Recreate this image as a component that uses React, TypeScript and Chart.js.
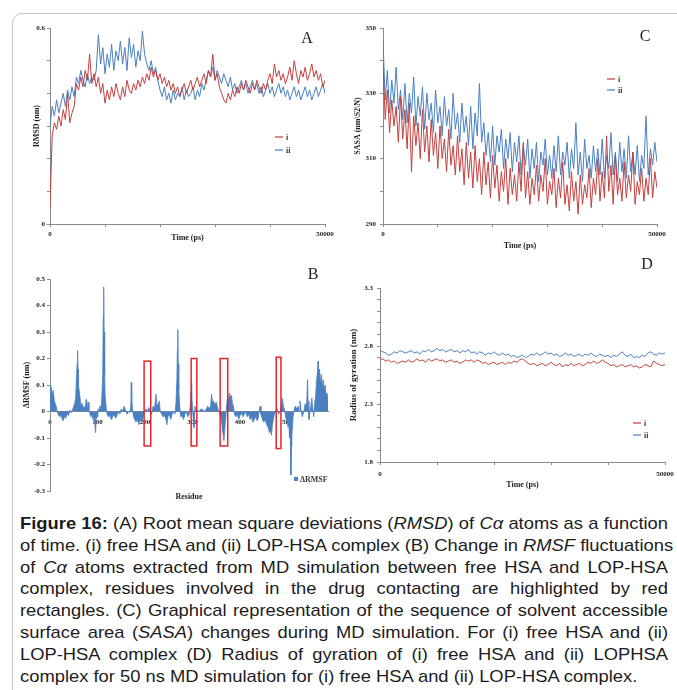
import React, { useEffect, useRef } from "react";
import { Chart, registerables } from "chart.js";

Chart.register(...registerables);

// ---------- shared styling ----------
const RED = "#c2413f";
const BLUE = "#4a7fc0";
const RED_KEY = "#d98a88";
const BLUE_KEY = "#8fb0d8";
const AXIS = "#8a8a8a";
const INK = "#1e1e1e";
const SERIF = '"Liberation Serif", "Times New Roman", serif';
const TICK_FONT = { family: SERIF, size: 7, weight: "bold" as const };
const TITLE_FONT = { family: SERIF, size: 8, weight: "bold" as const };

// ---------- (A) RMSD of Cα atoms, sampled every 400 ps ----------
const RMSD_STEP_PS = 400;
const rmsdFree = [
  0.05, 0.27, 0.31, 0.29, 0.33, 0.30, 0.35, 0.32, 0.40, 0.31,
  0.34, 0.36, 0.43, 0.41, 0.45, 0.42, 0.47, 0.44, 0.52, 0.43,
  0.46, 0.42, 0.45, 0.40, 0.43, 0.37, 0.41, 0.38, 0.42, 0.39,
  0.43, 0.40, 0.38, 0.42, 0.39, 0.44, 0.41, 0.40, 0.43, 0.41,
  0.44, 0.42, 0.45, 0.43, 0.46, 0.44, 0.48, 0.45, 0.47, 0.44,
  0.46, 0.43, 0.45, 0.42, 0.44, 0.41, 0.43, 0.40, 0.42, 0.39,
  0.41, 0.43, 0.40, 0.42, 0.44, 0.41, 0.43, 0.45, 0.42, 0.44,
  0.46, 0.43, 0.47, 0.45, 0.52, 0.44, 0.46, 0.42, 0.40, 0.38,
  0.37, 0.40, 0.38, 0.41, 0.39, 0.42, 0.40, 0.43, 0.41, 0.44,
  0.42, 0.40, 0.43, 0.41, 0.44, 0.42, 0.40, 0.43, 0.41, 0.44,
  0.46, 0.43, 0.49, 0.45, 0.47, 0.44, 0.46, 0.43, 0.45, 0.48,
  0.44, 0.50, 0.46, 0.43, 0.47, 0.45, 0.48, 0.44, 0.46, 0.49,
  0.45, 0.47, 0.44, 0.46, 0.42, 0.44,
];
const rmsdComplex = [
  0.30, 0.36, 0.33, 0.38, 0.34, 0.37, 0.40, 0.36, 0.41, 0.38,
  0.42, 0.39, 0.45, 0.43, 0.47, 0.44, 0.42, 0.46, 0.43, 0.45,
  0.44, 0.47, 0.58, 0.49, 0.54, 0.46, 0.52, 0.48, 0.55, 0.47,
  0.53, 0.50, 0.56, 0.49, 0.54, 0.47, 0.57, 0.51, 0.55, 0.48,
  0.53, 0.50, 0.59, 0.52, 0.49, 0.47, 0.50, 0.46, 0.48, 0.44,
  0.41, 0.39, 0.42, 0.38, 0.40, 0.37, 0.41, 0.38, 0.40, 0.39,
  0.42, 0.38, 0.41, 0.39, 0.40, 0.42, 0.38, 0.41, 0.39, 0.43,
  0.41, 0.44, 0.47, 0.45, 0.48, 0.44, 0.47, 0.45, 0.43, 0.46,
  0.44, 0.42, 0.45, 0.41, 0.43, 0.40, 0.42, 0.44, 0.41, 0.43,
  0.40, 0.42, 0.44, 0.41, 0.43, 0.40, 0.42, 0.39, 0.41, 0.43,
  0.40, 0.42, 0.39, 0.41, 0.43, 0.40, 0.42, 0.39, 0.41, 0.38,
  0.40, 0.42, 0.39, 0.41, 0.38, 0.40, 0.42, 0.39, 0.41, 0.38,
  0.40, 0.42, 0.39, 0.41, 0.43, 0.40,
];
const rmsdLabelledTicks = [0, 0.6];

// ---------- (C) SASA, sampled every 400 ps ----------
const SASA_STEP_PS = 400;
const sasaFree = [
  339, 322, 331, 318, 328, 320, 326, 315, 329, 316,
  325, 313, 327, 306, 323, 314, 321, 310, 325, 312,
  320, 309, 322, 311, 318, 307, 320, 310, 316, 306,
  319, 308, 314, 305, 317, 306, 313, 302, 315, 304,
  312, 301, 314, 303, 310, 299, 312, 302, 309, 298,
  311, 301, 308, 297, 306, 300, 310, 296, 307, 299,
  305, 297, 309, 300, 315, 298, 306, 296, 304, 299,
  308, 297, 305, 300, 310, 296, 303, 299, 307, 295,
  304, 298, 309, 296, 302, 294, 306, 297, 303, 293,
  305, 296, 302, 298, 307, 295, 304, 299, 310, 297,
  306, 298, 317, 300, 308, 296, 311, 299, 304, 297,
  309, 298, 305, 300, 312, 296, 303, 299, 307, 297,
  304, 299, 310, 298, 306, 301,
];
const sasaComplex = [
  346, 328, 337, 324, 334, 327, 338, 325, 331, 322,
  333, 321, 330, 324, 335, 320, 329, 323, 332, 319,
  330, 322, 327, 318, 331, 321, 326, 317, 329, 320,
  325, 316, 330, 319, 324, 315, 327, 318, 323, 314,
  326, 313, 324, 317, 333, 315, 321, 311, 318, 309,
  320, 308, 317, 312, 319, 307, 316, 310, 318, 306,
  315, 309, 317, 305, 314, 308, 316, 304, 313, 307,
  315, 303, 312, 308, 316, 305, 311, 304, 314, 306,
  317, 305, 312, 308, 315, 304, 313, 307, 321, 305,
  312, 303, 316, 307, 311, 304, 314, 306, 313, 305,
  316, 304, 311, 307, 318, 305, 312, 303, 315, 306,
  313, 304, 317, 306, 312, 305, 314, 303, 311, 307,
  323, 305, 313, 308, 315, 309,
];
const sasaLabelledTicks = [290, 310, 330, 350];

// ---------- (D) Radius of gyration, sampled every 500 ps ----------
const RG_STEP_PS = 500;
const rgFree = [
  2.68, 2.69, 2.67, 2.68, 2.66, 2.67, 2.65, 2.66, 2.67, 2.66,
  2.68, 2.66, 2.67, 2.69, 2.67, 2.68, 2.66, 2.69, 2.67, 2.68,
  2.69, 2.67, 2.68, 2.66, 2.67, 2.68, 2.66, 2.67, 2.65, 2.66,
  2.68, 2.67, 2.68, 2.66, 2.68, 2.67, 2.65, 2.66, 2.64, 2.65,
  2.66, 2.64, 2.65, 2.66, 2.64, 2.66, 2.65, 2.67, 2.66, 2.68,
  2.69, 2.67, 2.65, 2.64, 2.65, 2.63, 2.64, 2.65, 2.63, 2.64,
  2.66, 2.64, 2.63, 2.65, 2.62, 2.64, 2.63, 2.65, 2.63, 2.64,
  2.65, 2.63, 2.64, 2.66, 2.65, 2.67, 2.65, 2.66, 2.68, 2.66,
  2.65, 2.63, 2.64, 2.62, 2.63, 2.64, 2.62, 2.63, 2.64, 2.62,
  2.63, 2.61, 2.62, 2.64, 2.63, 2.62, 2.67, 2.65, 2.64, 2.63,
  2.64,
];
const rgComplex = [
  2.76, 2.75, 2.74, 2.72, 2.73, 2.75, 2.74, 2.76, 2.75, 2.74,
  2.75, 2.76, 2.74, 2.75, 2.73, 2.76, 2.75, 2.77, 2.75, 2.76,
  2.78, 2.76, 2.77, 2.75, 2.76, 2.77, 2.75, 2.76, 2.74, 2.76,
  2.75, 2.77, 2.74, 2.75, 2.73, 2.75, 2.74, 2.72, 2.74, 2.73,
  2.75, 2.73, 2.72, 2.74, 2.72, 2.73, 2.71, 2.72, 2.70, 2.71,
  2.72, 2.70, 2.71, 2.73, 2.72, 2.74, 2.72, 2.73, 2.75, 2.73,
  2.74, 2.72, 2.73, 2.71, 2.72, 2.74, 2.72, 2.73, 2.71, 2.72,
  2.73, 2.71, 2.73, 2.72, 2.74, 2.72, 2.71, 2.73, 2.72, 2.71,
  2.72, 2.70, 2.72, 2.71, 2.73, 2.75, 2.72, 2.71, 2.73, 2.70,
  2.71, 2.70, 2.72, 2.71, 2.74, 2.75, 2.73, 2.72, 2.74, 2.73,
  2.74,
];
const rgLabelledTicks = [1.8, 2.3, 2.8, 3.3];

const timeLabelledTicks = [0, 50000];

// ---------- (B) ΔRMSF per residue ----------
const rmsfResidue = [
  0, 1, 3, 5, 7, 9, 11, 13, 15, 17,
  20, 23, 26, 28, 30, 33, 36, 39, 42, 45,
  48, 50, 52, 54, 56, 57, 58, 59, 60, 62,
  64, 66, 68, 70, 72, 74, 76, 77, 79, 80,
  82, 84, 86, 88, 90, 92, 94, 96, 97, 99,
  101, 103, 105, 107, 109, 111, 112, 113, 114, 115,
  116, 118, 120, 123, 126, 129, 132, 135, 138, 141,
  144, 147, 150, 153, 156, 159, 162, 165, 168, 170,
  171, 172, 174, 176, 178, 181, 184, 187, 190, 193,
  196, 199, 202, 205, 208, 211, 214, 217, 220, 223,
  225, 228, 230, 232, 235, 238, 241, 244, 246, 248,
  251, 254, 257, 260, 263, 265, 267, 268, 269, 270,
  271, 273, 275, 278, 281, 284, 287, 290, 293, 295,
  297, 298, 299, 301, 303, 305, 307, 310, 314, 318,
  322, 326, 329, 332, 335, 338, 340, 342, 344, 347,
  350, 353, 356, 359, 362, 364, 366, 368, 370, 372,
  374, 376, 378, 380, 382, 384, 386, 388, 391, 394,
  397, 400, 403, 406, 409, 412, 415, 418, 421, 424,
  427, 430, 433, 436, 438, 440, 442, 444, 447, 450,
  453, 456, 459, 462, 464, 466, 468, 470, 472, 475,
  478, 481, 484, 487, 489, 491, 493, 495, 497, 499,
  501, 503, 504, 506, 507, 508, 509, 511, 513, 516,
  519, 522, 524, 526, 528, 531, 534, 537, 540, 542,
  543, 545, 547, 549, 551, 553, 555, 557, 559, 561,
  563, 564, 565, 567, 569, 571, 573, 575, 577, 579,
  581, 583, 585,
];
const rmsfDelta = [
  0.02, 0.10, 0.09, 0.06, 0.08, 0.04, 0.03, 0.02, 0.00, -0.01,
  -0.02, -0.015, -0.03, -0.035, -0.02, -0.025, -0.01, -0.015, 0.005, -0.005,
  0.01, 0.02, 0.03, 0.05, 0.14, 0.18, 0.23, 0.16, 0.10, 0.07,
  0.04, 0.02, 0.03, 0.01, 0.02, 0.00, 0.045, 0.01, 0.02, 0.035,
  0.01, -0.01, -0.02, -0.01, -0.03, -0.02, -0.04, -0.08, -0.03, -0.02,
  0.01, 0.00, 0.02, 0.01, 0.05, 0.14, 0.36, 0.47, 0.30, 0.14,
  0.06, 0.02, -0.01, -0.02, -0.015, -0.03, -0.02, -0.01, -0.025, -0.015,
  0.00, -0.01, 0.01, 0.00, 0.02, 0.005, -0.01, 0.00, -0.005, 0.02,
  0.11, 0.05, 0.00, -0.02, -0.03, -0.04, -0.03, -0.05, -0.03, -0.04,
  -0.02, 0.00, 0.01, 0.00, 0.015, 0.005, -0.01, 0.02, 0.01, 0.065,
  0.02, 0.03, 0.04, 0.00, -0.01, -0.02, -0.015, -0.03, -0.05, -0.02,
  -0.01, -0.03, -0.01, 0.00, -0.01, 0.03, 0.12, 0.23, 0.31, 0.18,
  0.08, 0.02, -0.02, -0.015, -0.03, -0.01, 0.00, -0.02, -0.01, 0.02,
  0.08, 0.11, 0.04, -0.02, -0.06, 0.02, 0.00, 0.005, 0.00, 0.01,
  0.005, 0.00, 0.01, 0.02, 0.01, 0.02, 0.065, 0.03, 0.04, 0.025,
  0.035, 0.01, 0.00, -0.02, -0.05, -0.08, -0.11, -0.06, -0.02, 0.03,
  0.06, 0.04, 0.07, 0.05, 0.06, 0.03, 0.02, -0.01, -0.02, -0.01,
  -0.03, -0.015, -0.005, -0.02, -0.01, 0.00, -0.02, -0.01, -0.03, -0.02,
  -0.04, -0.03, -0.02, -0.035, -0.025, 0.00, 0.02, -0.01, -0.03, -0.04,
  -0.03, -0.05, -0.06, -0.08, -0.07, -0.09, -0.05, -0.03, -0.01, 0.00,
  0.01, -0.01, 0.00, 0.02, 0.05, 0.02, 0.01, -0.01, -0.03, -0.04,
  -0.06, -0.05, -0.10, -0.08, -0.24, -0.13, -0.09, -0.03, 0.00, 0.02,
  0.01, 0.02, 0.00, 0.04, 0.01, -0.02, 0.00, 0.03, 0.02, 0.12,
  0.04, -0.03, 0.00, 0.02, 0.05, 0.01, -0.02, 0.03, 0.06, 0.12,
  0.15, 0.19, 0.13, 0.16, 0.11, 0.14, 0.09, 0.12, 0.08, 0.10,
  0.06, 0.07, 0.04,
];
const rmsfLabelledTicks = [-0.3, -0.2, -0.1, 0, 0.1, 0.2, 0.3, 0.4, 0.5];
const residueLabelledTicks = [0, 100, 200, 300, 400, 500];

// Residue windows in contact with the drug (outlined in red)
const contactFrom = [198, 297, 358, 476];
const contactTo = [212, 309, 374, 486];
const contactTop = [0.19, 0.2, 0.2, 0.205];
const contactBottom = [-0.13, -0.13, -0.13, -0.14];

// ---------- helpers ----------
const toPoints = (ys: number[], step: number) => ys.map((y, i) => ({ x: i * step, y }));

const fmt = (v: number) => String(Number(v.toFixed(3)));

function labelOnly(list: number[]) {
  return (value: number | string) => {
    const v = Number(value);
    return list.some((t) => Math.abs(t - v) < 1e-6) ? fmt(v) : "";
  };
}

function fitTo(size: number) {
  return (scale: any) => {
    if (scale.isHorizontal()) scale.height = size;
    else scale.width = size;
    scale.paddingLeft = 0;
    scale.paddingRight = 0;
    scale.paddingTop = 0;
    scale.paddingBottom = 0;
  };
}

type AxisSpec = {
  min: number;
  max: number;
  step: number;
  labelled: number[];
  size: number;
  tickPad: number;
  title?: string;
  titlePad?: { top: number; bottom: number };
  titleSize?: number;
  drawTicks?: boolean;
  position?: any;
};

function linearAxis(s: AxisSpec) {
  return {
    type: "linear",
    position: s.position,
    min: s.min,
    max: s.max,
    afterFit: fitTo(s.size),
    border: { display: true, color: AXIS, width: 1 },
    grid: {
      display: true,
      drawOnChartArea: false,
      drawTicks: s.drawTicks ?? true,
      tickLength: 3,
      color: AXIS,
      lineWidth: 1,
    },
    ticks: {
      stepSize: s.step,
      autoSkip: false,
      maxRotation: 0,
      minRotation: 0,
      padding: s.tickPad,
      color: INK,
      font: TICK_FONT,
      callback: labelOnly(s.labelled),
    },
    title: {
      display: !!s.title,
      text: s.title ?? "",
      color: INK,
      font: { ...TITLE_FONT, size: s.titleSize ?? TITLE_FONT.size },
      padding: s.titlePad ?? { top: 0, bottom: 0 },
    },
  };
}

function baseOptions(padding: { top: number; right: number }, scales: any) {
  return {
    responsive: false,
    animation: false,
    devicePixelRatio: 1,
    events: [],
    layout: { padding: { top: padding.top, right: padding.right, bottom: 0, left: 0 } },
    plugins: { legend: { display: false }, tooltip: { enabled: false } },
    elements: { point: { radius: 0 }, line: { tension: 0, borderWidth: 1 } },
    scales,
  };
}

function series(label: string, data: { x: number; y: number }[], color: string) {
  return { label, data, borderColor: color, backgroundColor: color, borderWidth: 1, pointRadius: 0, fill: false };
}

// ---------- chart configurations ----------
const rmsdConfig = () => ({
  type: "line",
  data: {
    datasets: [
      series("i", toPoints(rmsdFree, RMSD_STEP_PS), RED),
      series("ii", toPoints(rmsdComplex, RMSD_STEP_PS), BLUE),
    ],
  },
  options: baseOptions({ top: 10, right: 9 }, {
    x: linearAxis({ min: 0, max: 50000, step: 10000, labelled: timeLabelledTicks, size: 26, tickPad: 3, title: "Time (ps)", titlePad: { top: 0, bottom: 7 } }),
    y: linearAxis({ min: 0, max: 0.6, step: 0.1, labelled: rmsdLabelledTicks, size: 36, tickPad: 2, title: "RMSD (nm)", titlePad: { top: 18, bottom: 0 } }),
  }),
});

const sasaConfig = () => ({
  type: "line",
  data: {
    datasets: [
      series("i", toPoints(sasaFree, SASA_STEP_PS), RED),
      series("ii", toPoints(sasaComplex, SASA_STEP_PS), BLUE),
    ],
  },
  options: baseOptions({ top: 10, right: 11 }, {
    x: linearAxis({ min: 0, max: 50000, step: 10000, labelled: timeLabelledTicks, size: 28, tickPad: 3, title: "Time (ps)", titlePad: { top: 0, bottom: 1 } }),
    y: linearAxis({ min: 290, max: 350, step: 10, labelled: sasaLabelledTicks, size: 35, tickPad: 4, title: "SASA (nm\\S2\\N)", titlePad: { top: 5, bottom: 0 } }),
  }),
});

const rgConfig = () => ({
  type: "line",
  data: {
    datasets: [
      series("i", toPoints(rgFree, RG_STEP_PS), RED),
      series("ii", toPoints(rgComplex, RG_STEP_PS), BLUE),
    ],
  },
  options: baseOptions({ top: 10, right: 10 }, {
    x: linearAxis({ min: 0, max: 50000, step: 10000, labelled: timeLabelledTicks, size: 30, tickPad: 5, title: "Time (ps)", titlePad: { top: 0, bottom: 2 } }),
    y: linearAxis({ min: 1.8, max: 3.3, step: 0.1, labelled: rgLabelledTicks, size: 35, tickPad: 4, title: "Radius of gyration (nm)", titleSize: 9, titlePad: { top: 3, bottom: 0 } }),
  }),
});

const contactBoxesPlugin = {
  id: "contactBoxes",
  afterDatasetsDraw(chart: any) {
    const { ctx, scales } = chart;
    const x = scales.x;
    const y = scales.y;
    ctx.save();
    ctx.strokeStyle = "#e3262b";
    ctx.lineWidth = 1.5;
    contactFrom.forEach((from, i) => {
      const x1 = x.getPixelForValue(from);
      const x2 = x.getPixelForValue(contactTo[i]);
      const y1 = y.getPixelForValue(contactTop[i]);
      const y2 = y.getPixelForValue(contactBottom[i]);
      ctx.strokeRect(x1, y1, x2 - x1, y2 - y1);
    });
    ctx.restore();
  },
};

const rmsfConfig = () => ({
  type: "line",
  data: {
    datasets: [
      {
        label: "ΔRMSF",
        data: rmsfResidue.map((r, i) => ({ x: r, y: rmsfDelta[i] })),
        borderColor: BLUE,
        backgroundColor: BLUE,
        borderWidth: 0.8,
        pointRadius: 0,
        fill: "origin",
      },
    ],
  },
  options: baseOptions({ top: 11, right: 8 }, {
    x: linearAxis({ min: 0, max: 585, step: 100, labelled: residueLabelledTicks, size: 0, tickPad: 6, drawTicks: false, position: { y: 0 } }),
    x2: {
      type: "linear",
      position: "bottom",
      afterFit: fitTo(11),
      border: { display: false },
      grid: { display: false },
      ticks: { display: false },
      title: { display: true, text: "Residue", color: INK, font: TITLE_FONT, padding: { top: 0, bottom: 0 } },
    },
    y: linearAxis({ min: -0.3, max: 0.5, step: 0.1, labelled: rmsfLabelledTicks, size: 36, tickPad: 2, title: "ΔRMSF (nm)", titlePad: { top: 8, bottom: 0 } }),
  }),
  plugins: [contactBoxesPlugin],
});

// ---------- components ----------
type Box = { left: number; top: number; width: number; height: number };

function ChartCanvas({ box, build }: { box: Box; build: () => any }) {
  const ref = useRef<HTMLCanvasElement>(null);
  useEffect(() => {
    const chart = new Chart(ref.current as HTMLCanvasElement, build());
    return () => chart.destroy();
  }, []);
  return (
    <canvas
      ref={ref}
      width={box.width}
      height={box.height}
      style={{ position: "absolute", left: box.left, top: box.top, width: box.width, height: box.height }}
    />
  );
}

function LegendKey({ x, y, color, text }: { x: number; y: number; color: string; text: string }) {
  return (
    <div
      style={{
        position: "absolute",
        left: x,
        top: y - 5,
        height: 10,
        display: "flex",
        alignItems: "center",
        fontFamily: SERIF,
        fontWeight: "bold",
        fontSize: 8,
        color: "#3a3a3a",
        whiteSpace: "nowrap",
      }}
    >
      <span style={{ display: "inline-block", width: 8, height: 1.5, background: color, marginRight: 3 }} />
      {text}
    </div>
  );
}

function PanelLetter({ x, y, text }: { x: number; y: number; text: string }) {
  return (
    <div
      style={{
        position: "absolute",
        left: x,
        top: y,
        transform: "translate(-50%, -50%)",
        fontFamily: SERIF,
        fontSize: 16,
        lineHeight: "16px",
        color: "#222",
      }}
    >
      {text}
    </div>
  );
}

const captionLines: React.ReactNode[] = [
  <>
    <b>Figure 16:</b> (A) Root mean square deviations (<i>RMSD</i>) of <i>Cα</i> atoms as a function
  </>,
  <>
    of time. (i) free HSA and (ii) LOP-HSA complex (B) Change in <i>RMSF</i> fluctuations
  </>,
  <>
    of <i>Cα</i> atoms extracted from MD simulation between free HSA and LOP-HSA
  </>,
  <>complex, residues involved in the drug contacting are highlighted by red</>,
  <>rectangles. (C) Graphical representation of the sequence of solvent accessible</>,
  <>
    surface area (<i>SASA</i>) changes during MD simulation. For (i) free HSA and (ii)
  </>,
  <>LOP-HSA complex (D) Radius of gyration of (i) free HSA and (ii) LOPHSA</>,
  <>complex for 50 ns MD simulation for (i) free HSA and (ii) LOP-HSA complex.</>,
];

// Caption is set in a slightly widened sans face and justified line by line
const CAPTION_STRETCH = 1.08;
const CAPTION_WIDTH = 648;

export default function App() {
  return (
    <div
      style={{
        position: "absolute",
        left: 0,
        top: 0,
        width: 677,
        height: 690,
        overflow: "hidden",
        background: "#fff",
      }}
    >
      <div
        style={{
          position: "absolute",
          left: 12,
          top: 13,
          width: 720,
          height: 720,
          border: "1px solid #c4c4c4",
          borderRadius: 10,
        }}
      />

      <ChartCanvas box={{ left: 14, top: 18, width: 320, height: 232 }} build={rmsdConfig} />
      <ChartCanvas box={{ left: 348, top: 18, width: 320, height: 234 }} build={sasaConfig} />
      <ChartCanvas box={{ left: 14, top: 268, width: 322, height: 234 }} build={rmsfConfig} />
      <ChartCanvas box={{ left: 345, top: 278, width: 330, height: 214 }} build={rgConfig} />

      <PanelLetter x={307} y={38} text="A" />
      <PanelLetter x={645} y={36} text="C" />
      <PanelLetter x={313} y={274} text="B" />
      <PanelLetter x={647} y={264} text="D" />

      <LegendKey x={275} y={137} color={RED_KEY} text="i" />
      <LegendKey x={275} y={150} color={BLUE_KEY} text="ii" />
      <LegendKey x={607} y={79} color={RED_KEY} text="i" />
      <LegendKey x={607} y={90} color={BLUE_KEY} text="ii" />
      <LegendKey x={633} y={423} color={RED_KEY} text="i" />
      <LegendKey x={633} y={435} color={BLUE_KEY} text="ii" />

      <div
        style={{
          position: "absolute",
          left: 294,
          top: 474,
          height: 10,
          display: "flex",
          alignItems: "center",
          fontFamily: SERIF,
          fontWeight: "bold",
          fontSize: 8,
          color: "#3a3a3a",
          whiteSpace: "nowrap",
        }}
      >
        <span style={{ display: "inline-block", width: 4, height: 4, background: BLUE, marginRight: 2 }} />
        ΔRMSF
      </div>

      <div
        style={{
          position: "absolute",
          left: 20,
          top: 513,
          width: CAPTION_WIDTH / CAPTION_STRETCH,
          transform: `scaleX(${CAPTION_STRETCH})`,
          transformOrigin: "0 0",
          fontFamily: '"Liberation Sans", Arial, sans-serif',
          fontSize: 17,
          lineHeight: "21.8px",
          color: "#1c1c1c",
        }}
      >
        {captionLines.map((line, i) => (
          <div
            key={i}
            style={{
              whiteSpace: "nowrap",
              textAlign: i < captionLines.length - 1 ? "justify" : "left",
              textAlignLast: i < captionLines.length - 1 ? "justify" : "left",
            }}
          >
            {line}
          </div>
        ))}
      </div>
    </div>
  );
}
